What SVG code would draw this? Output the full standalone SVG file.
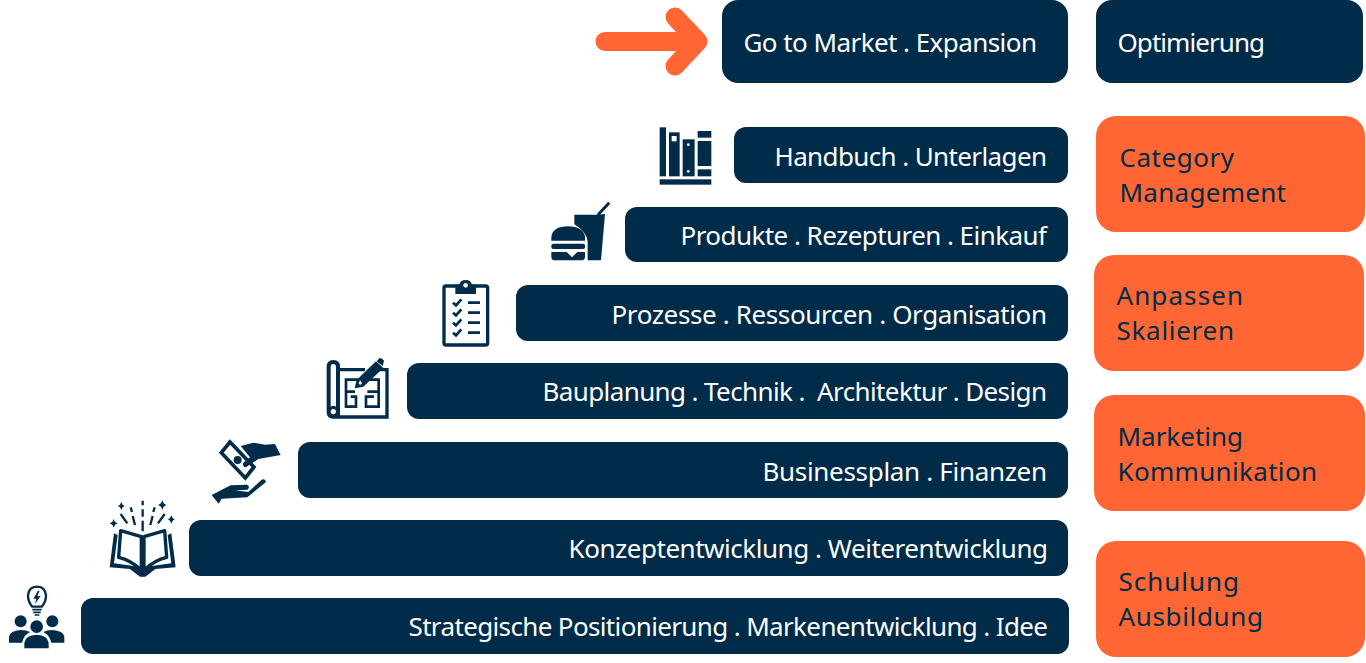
<svg xmlns="http://www.w3.org/2000/svg" width="1366" height="663" viewBox="0 0 1366 663">
<style>
.n{fill:#002b49}.o{fill:#ff6633}
text{font-family:"Noto Sans","Open Sans","Liberation Sans",sans-serif;font-size:26px;white-space:pre}
.w{fill:#fff}.d{fill:#002b49}
.i{fill:#002b49;stroke:none}
.s{fill:none;stroke:#002b49}
.c{fill:#fff;stroke:none}
</style>
<rect width="1366" height="663" fill="#fff"/>
<g id="connectors">
<path d="M605 41.5H696M675 17L698 41.5L675 66" fill="none" stroke="#ff6633" stroke-width="19" stroke-linecap="round" stroke-linejoin="round"/>
</g>
<g id="go-to-market"><rect class="n" x="722" y="0" width="346" height="83" rx="16"/><text class="w" x="743.5" y="51.5" textLength="293.5" lengthAdjust="spacing">Go to Market . Expansion</text></g>
<g id="optimierung"><rect class="n" x="1096" y="0" width="267" height="83" rx="16"/><text class="w" x="1117.5" y="51.5" textLength="147.5" lengthAdjust="spacing">Optimierung</text></g>
<g id="handbuch"><rect class="n" x="734" y="127" width="334" height="56" rx="12"/><text class="w" x="774.5" y="165.5" textLength="272.5" lengthAdjust="spacing">Handbuch . Unterlagen</text></g>
<g id="produkte"><rect class="n" x="625" y="207" width="443" height="55" rx="12"/><text class="w" x="680.5" y="244.5" textLength="366.5" lengthAdjust="spacing">Produkte . Rezepturen . Einkauf</text></g>
<g id="prozesse"><rect class="n" x="516" y="285" width="552" height="56" rx="12"/><text class="w" x="611.5" y="323.5" textLength="435.5" lengthAdjust="spacing">Prozesse . Ressourcen . Organisation</text></g>
<g id="bauplanung"><rect class="n" x="407" y="363" width="661" height="56" rx="12"/><text class="w" x="542.5" y="400.5" textLength="504.5" lengthAdjust="spacing">Bauplanung . Technik .  Architektur . Design</text></g>
<g id="businessplan"><rect class="n" x="298" y="442" width="770" height="56" rx="12"/><text class="w" x="762.5" y="480.5" textLength="284.5" lengthAdjust="spacing">Businessplan . Finanzen</text></g>
<g id="konzept"><rect class="n" x="189" y="520" width="879" height="56" rx="12"/><text class="w" x="568.5" y="557.5" textLength="479.5" lengthAdjust="spacing">Konzeptentwicklung . Weiterentwicklung</text></g>
<g id="strategie"><rect class="n" x="81" y="598" width="988" height="56" rx="12"/><text class="w" x="408.5" y="635.5" textLength="639.5" lengthAdjust="spacing">Strategische Positionierung . Markenentwicklung . Idee</text></g>
<g id="category"><rect class="o" x="1096" y="116" width="269" height="116" rx="20"/><text class="d" x="1119.5" y="167" textLength="114.5" lengthAdjust="spacing">Category</text><text class="d" x="1119.5" y="202" textLength="166.5" lengthAdjust="spacing">Management</text></g>
<g id="anpassen"><rect class="o" x="1094" y="255" width="270" height="116" rx="20"/><text class="d" x="1116.5" y="305" textLength="126.5" lengthAdjust="spacing">Anpassen</text><text class="d" x="1116.5" y="340" textLength="117.5" lengthAdjust="spacing">Skalieren</text></g>
<g id="marketing"><rect class="o" x="1094" y="395" width="271" height="116" rx="20"/><text class="d" x="1117.5" y="446" textLength="125.5" lengthAdjust="spacing">Marketing</text><text class="d" x="1117.5" y="481" textLength="199.5" lengthAdjust="spacing">Kommunikation</text></g>
<g id="schulung"><rect class="o" x="1096" y="541" width="269" height="116" rx="20"/><text class="d" x="1118.5" y="591" textLength="120.5" lengthAdjust="spacing">Schulung</text><text class="d" x="1118.5" y="626" textLength="144.5" lengthAdjust="spacing">Ausbildung</text></g>

<g id="icon-people" transform="translate(0,420) scale(.3333)">
<path class="s" d="M97 560Q84 545 84 527Q86 500 111 500Q136 500 138 527Q138 545 125 560Z" stroke-width="7" stroke-linejoin="round"/>
<path class="i" d="M114 512L100 536H109L105 552L122 528H112L119 512Z"/>
<path class="s" d="M97 569H125M100 577H122M104 585H118" stroke-width="5"/>
<circle class="i" cx="62" cy="604" r="18"/><circle class="i" cx="157" cy="604" r="18"/><circle class="i" cx="110" cy="620" r="19"/>
<path class="i" d="M27 668V650Q30 632 62 630Q80 630 90 636Q72 644 66 668Z"/>
<path class="i" d="M193 668V650Q190 632 157 630Q140 630 130 636Q148 644 154 668Z"/>
<path class="i" d="M73 685V668Q76 646 110 644Q143 646 146 668V685Z"/>
</g>
<g id="icon-book" transform="translate(0,420) scale(.3333)">
<path class="i" d="M342 340L329 442L390 447L420 470H436L466 447L527 442L514 340L503 345L514 430L440 440L428 452L416 440L342 430L353 345Z"/>
<path class="s" d="M362 332L424 350V450Q392 420 356 412ZM494 332L432 350V450Q464 420 500 412Z" stroke-width="10" stroke-linejoin="round"/>
<path class="s" d="M428 242V256M428 268V290M428 302V334M392 262L396 276M398 288L405 315M362 282L382 310M464 262L460 276M458 288L451 315M494 282L474 310" stroke-width="7"/>
<path class="i" d="M364 246L368 254L374 258L368 262L364 270L360 262L354 258L360 254ZM487 241L491 250L499 255L491 260L487 269L483 260L475 255L483 250ZM341 297L345 306L353 310L345 314L341 323L337 314L329 310L337 306ZM514 286L518 294L524 298L518 302L514 311L510 302L504 298L510 294Z"/>
</g>
<g id="icon-money" transform="translate(0,420) scale(.3333)">
<path d="M690 66L664 98L736 174L762 141Z" fill="#fff" stroke="#002b49" stroke-width="11" stroke-linejoin="miter"/>
<circle class="i" cx="713" cy="120" r="12"/>
<path class="i" d="M722 78L760 68L795 74L825 72L842 105L775 117L738 142Q726 140 730 128L750 112Z"/>
<path class="i" d="M635 225L692 196L742 194Q752 202 742 209L706 211L745 216L784 180Q796 174 798 186L742 232L665 236L656 251Z"/>
</g>
<g id="icon-plan" transform="translate(310,270) scale(.3333)">
<path class="i" fill-rule="evenodd" d="M50 290Q50 270 70 270Q90 270 90 290V294H165V304H90V436H226V304H203V294H236V446H70Q50 446 50 426ZM62 292V410Q70 404 78 410V292Q78 282 70 282Q62 282 62 292ZM70 417A8 8 0 1 0 70.1 417Z"/>
<path d="M134 355L140 330L198 274L220 294L160 350Z" class="i" stroke="#fff" stroke-width="4"/>
<path class="c" d="M146 341L150 331L156 339L151 345Z"/>
<path class="i" d="M200 274L208 265Q214 262 222 272L218 288Z"/>
<path class="s" d="M145 329H108V410H138V380H122M168 329H206V410H168V380H192M108 365H135M172 365H206" stroke-width="8"/>
</g>
<g id="icon-clipboard" transform="translate(310,270) scale(.3333)">
<rect x="402" y="48" width="131" height="177" rx="6" fill="#fff" stroke="#002b49" stroke-width="10"/>
<path class="i" d="M436 44H448Q450 30 467 30Q484 30 486 44H498V72H436Z"/>
<circle class="c" cx="467" cy="46" r="7"/>
<path class="s" d="M474 98H510M474 128H510M474 158H510M474 188H510" stroke-width="8"/>
<path class="s" d="M429 98L438 106L454 88M429 128L438 136L454 118M429 158L438 166L454 148M429 188L438 196L454 178" stroke-width="8"/>
</g>
<g id="icon-books" transform="translate(540,110) scale(.3333)">
<rect class="i" x="359" y="52" width="19" height="147"/>
<rect class="i" x="387" y="67" width="32" height="132"/>
<rect class="c" x="395" y="78" width="15" height="16"/>
<rect class="i" x="428" y="88" width="36" height="111"/>
<circle class="c" cx="445" cy="104" r="4"/><circle class="c" cx="445" cy="184" r="4"/>
<rect class="i" x="473" y="63" width="41" height="20"/>
<rect class="i" x="473" y="93" width="41" height="75"/>
<rect class="i" x="473" y="178" width="41" height="21"/>
<rect class="i" x="359" y="208" width="155" height="16"/>
</g>
<g id="icon-food" transform="translate(540,110) scale(.3333)">
<path class="i" d="M103 314H168L195 312L183 451H143V395Q140 365 103 343Z"/>
<path class="s" d="M176 312L205 281" stroke-width="9" stroke-linecap="round"/>
<path class="i" d="M34 392V380Q38 350 84 349Q130 350 135 380V392Z"/>
<rect class="i" x="34" y="401" width="101" height="16" rx="6"/>
<path class="i" d="M34 426H80L96 442L112 426H135V440Q135 451 124 451H45Q34 451 34 440Z"/>
</g>
</svg>
